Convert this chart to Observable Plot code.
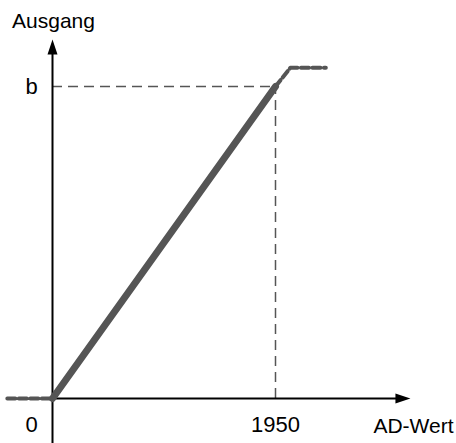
<!DOCTYPE html>
<html>
<head>
<meta charset="utf-8">
<script src="https://cdn.jsdelivr.net/npm/d3@7"></script>
<script src="https://cdn.jsdelivr.net/npm/@observablehq/plot@0.6"></script>
<style>
  html, body { margin: 0; padding: 0; background: #fff; }
  #chart svg { display: block; }
</style>
</head>
<body>
<div id="chart"></div>
<script>
// ---- data ----
const xTicks = [0, 1950];
const xTickLabels = ["0", "1950"];
const yTicks = [1];
const yTickLabels = ["b"];
const xAxisLabel = "AD-Wert";
const yAxisLabel = "Ausgang";

const rampX = [0, 1950];
const rampY = [0, 1];
const satX = [1950, 2080, 2390];
const satY = [1, 1.06, 1.06];
const lowX = [-395, 0];
const lowY = [0, 0];

const xAxisEnd = 3130;
const yAxisTop = 1.151;
const yAxisBottom = -0.144;

// ---- helpers ----
const pts = (xs, ys) => xs.map((x, i) => ({x, y: ys[i]}));
const arrowHead = {
  draw(ctx) {
    ctx.moveTo(0, 0);
    ctx.lineTo(-5, 15);
    ctx.lineTo(5, 15);
    ctx.closePath();
  }
};
const font = "'Liberation Sans', Arial, Helvetica, sans-serif";
const tickData = xTicks.map((x, i) => ({x, y: 0, label: xTickLabels[i]}));

const chart = Plot.plot({
  width: 456,
  height: 443,
  x: {type: "linear", domain: [0, 1950], range: [52, 275], axis: null},
  y: {type: "linear", domain: [0, 1], range: [398, 86], axis: null},
  style: {fontFamily: font, background: "#fff", overflow: "visible"},
  marks: [
    // reference dashed lines
    Plot.ruleY(yTicks, {y: d => d, x1: 0, x2: xTicks[1], stroke: "#555", strokeWidth: 1.5, strokeDasharray: "10,6"}),
    Plot.ruleX([xTicks[1]], {x: d => d, y1: 0, y2: yTicks[0], stroke: "#555", strokeWidth: 1.5, strokeDasharray: "10,6"}),
    // axes
    Plot.ruleX([0], {x: d => d, y1: yAxisBottom, y2: yAxisTop - 0.02, stroke: "#000", strokeWidth: 2}),
    Plot.ruleY([0], {y: d => d, x1: 0, x2: xAxisEnd - 100, stroke: "#000", strokeWidth: 2}),
    Plot.dot([{x: 0, y: yAxisTop}], {x: "x", y: "y", symbol: arrowHead, fill: "#000", stroke: "none", rotate: 0}),
    Plot.dot([{x: xAxisEnd, y: 0}], {x: "x", y: "y", symbol: arrowHead, fill: "#000", stroke: "none", rotate: 90}),
    // characteristic
    Plot.line(pts(lowX, lowY), {x: "x", y: "y", stroke: "#555", strokeWidth: 4, strokeDasharray: "8,3.5"}),
    Plot.line(pts(satX, satY), {x: "x", y: "y", stroke: "#555", strokeWidth: 4, strokeDasharray: "8,3.5", strokeLinejoin: "round"}),
    Plot.line(pts(rampX, rampY), {x: "x", y: "y", stroke: "#555", strokeWidth: 7}),
    // labels
    Plot.text(tickData.slice(0, 1), {x: "x", y: "y", text: "label", dx: -21, dy: 26, fontSize: 22, fill: "#000", textAnchor: "middle"}),
    Plot.text(tickData.slice(1), {x: "x", y: "y", text: "label", dx: 0, dy: 26, fontSize: 22, fill: "#000", textAnchor: "middle"}),
    Plot.text(yTicks.map((y, i) => ({x: 0, y, label: yTickLabels[i]})), {x: "x", y: "y", text: "label", dx: -21, dy: 0, fontSize: 22, fill: "#000", textAnchor: "middle"}),
    Plot.text([{x: xAxisEnd, y: 0, label: xAxisLabel}], {x: "x", y: "y", text: "label", dx: 3, dy: 28, fontSize: 21, fill: "#000", textAnchor: "middle"}),
    Plot.text([{x: 0, y: yAxisTop, label: yAxisLabel}], {x: "x", y: "y", text: "label", dx: 1, dy: -18, fontSize: 21, fill: "#000", textAnchor: "middle"})
  ]
});
document.getElementById("chart").appendChild(chart);
</script>
</body>
</html>
